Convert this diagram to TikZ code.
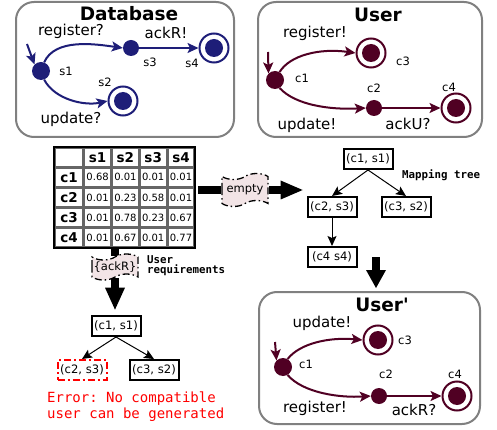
\documentclass[tikz,border=0pt]{standalone}
\usepackage{fontspec}
\setmainfont{DejaVu Sans}
\setmonofont{DejaVu Sans Mono}
\usetikzlibrary{arrows.meta,shapes.symbols,calc,backgrounds,matrix}
\definecolor{dbblue}{RGB}{30,30,120}
\definecolor{usrred}{RGB}{80,0,35}
\definecolor{panelgray}{RGB}{128,128,128}
\definecolor{tapepink}{RGB}{242,228,230}
\definecolor{errred}{RGB}{255,0,0}
\newcommand{\myfs}[1]{\fontsize{#1}{#1}\selectfont}
\tikzset{
  panel/.style={draw=panelgray, line width=2pt, rounded corners=18pt},
  titletext/.style={font=\myfs{18.5}\bfseries, inner sep=0pt},
  lbl/.style={font=\myfs{15}, inner sep=0pt},
  sname/.style={font=\myfs{11.5}, inner sep=0pt},
  dot/.style={circle, fill=#1, inner sep=0pt, minimum size=18pt},
  smalldot/.style={circle, fill=#1, inner sep=0pt, minimum size=16pt},
  final/.style={circle, draw=#1, line width=2pt, fill=white, inner sep=0pt, minimum size=29pt,
    path picture={\fill[#1] (path picture bounding box.center) circle (9pt);}},
  trans/.style={draw=#1, line width=2pt, -{Stealth[length=11pt,width=10pt,inset=2.5pt]}},
  treebox/.style={draw, line width=2pt, fill=white, minimum width=49pt, minimum height=20pt,
    inner sep=2pt, font=\myfs{11.6}},
  errbox/.style={treebox, draw=errred, dash pattern=on 7pt off 3pt on 2pt off 3pt},
  treearrow/.style={line width=1pt, -{Stealth[length=10pt,width=9pt,inset=2pt]}},
  tapebox/.style={tape, draw=black, line width=1.3pt, dash pattern=on 7pt off 3pt on 1.5pt off 3pt,
    fill=tapepink, inner sep=1pt, font=\myfs{11.5}, tape bend height=6pt, minimum width=46pt},
  bigshaft/.style={line width=8pt},
  monolbl/.style={font=\myfs{10.8}\ttfamily\bfseries, inner sep=0pt, align=left},
}
\begin{document}
\begin{tikzpicture}[x=1pt,y=-1pt]
\useasboundingbox (0,0) rectangle (497,430);

% ---------- Database panel ----------
\draw[panel] (16,2) rectangle (234,137);
\node[titletext] (dbtitle) at (129,14) {Database};
\node[dot=dbblue] (s1) at (41,71) {};
\node[smalldot=dbblue] (s3) at (131,48) {};
\node[final=dbblue] (s4) at (214,48) {};
\node[final=dbblue] (s2) at (123,101) {};
\coordinate (dbinit) at (27,44);
\draw[trans=dbblue] (dbinit) -- (s1.135);
\draw[trans=dbblue] (s1.70) .. controls (55,38) and (95,44) .. (s3.west);
\draw[trans=dbblue] (s1.-70) .. controls (55,100) and (85,106) .. (s2.west);
\draw[trans=dbblue] (s3) -- (s4);
\node[lbl] (dbreg) at (71,31) {register?};
\node[lbl] (dback) at (166,33) {ackR!};
\node[lbl] (dbupd) at (71,119) {update?};
\node[sname] (ls1) at (66,71) {s1};
\node[sname] (ls3) at (150,62) {s3};
\node[sname] (ls4) at (192,63) {s4};
\node[sname] (ls2) at (105,82) {s2};

% ---------- User panel ----------
\draw[panel] (258,2) rectangle (482,137);
\node[titletext] (utitle) at (378,15) {User};
\node[dot=usrred] (c1) at (275,80) {};
\node[final=usrred] (c3) at (371,53) {};
\node[smalldot=usrred] (c2) at (374,108) {};
\node[final=usrred] (c4) at (456,108) {};
\coordinate (uinit) at (268,52);
\draw[trans=usrred] (uinit) -- (c1.135);
\draw[trans=usrred] (c1.60) .. controls (290,55) and (320,48) .. (c3.west);
\draw[trans=usrred] (c1.-60) .. controls (295,105) and (330,110) .. (c2.west);
\draw[trans=usrred] (c2) -- (c4);
\node[lbl] (ureg) at (315,33) {register!};
\node[lbl] (uupd) at (307,125) {update!};
\node[lbl] (uack) at (408,124) {ackU?};
\node[sname] (lc1) at (302,78) {c1};
\node[sname] (lc2) at (374,88) {c2};
\node[sname] (lc3) at (403,61) {c3};
\node[sname] (lc4) at (449,87) {c4};

% ---------- User' panel ----------
\draw[panel] (259,292) rectangle (480,424);
\node[titletext] (vtitle) at (382,305) {User\textquotesingle};
\node[dot=usrred] (d1) at (283,367) {};
\node[final=usrred] (d3) at (378,340) {};
\node[smalldot=usrred] (d2) at (379,396) {};
\node[final=usrred] (d4) at (457,396) {};
\coordinate (vinit) at (275,342);
\draw[trans=usrred] (vinit) -- (d1.135);
\draw[trans=usrred] (d1.60) .. controls (300,343) and (330,337) .. (d3.west);
\draw[trans=usrred] (d1.-60) .. controls (303,393) and (340,398) .. (d2.west);
\draw[trans=usrred] (d2) -- (d4);
\node[lbl] (vupd) at (322,323) {update!};
\node[lbl] (vreg) at (315,408) {register!};
\node[lbl] (vack) at (414,410) {ackR?};
\node[sname] (ld1) at (306,364) {c1};
\node[sname] (ld2) at (386,374) {c2};
\node[sname] (ld3) at (405,340) {c3};
\node[sname] (ld4) at (455,374) {c4};

% ---------- Table ----------
\matrix (tbl) [matrix of nodes, nodes in empty cells, anchor=north west, inner sep=0pt,
  column sep=0pt, row sep=0pt,
  nodes={draw=black!60, line width=1.5pt, outer sep=0pt, minimum width=26.3pt,
    minimum height=18.6pt, inner sep=0pt, anchor=center, font=\myfs{10}},
  row 1/.style={nodes={font=\myfs{13.5}\bfseries}},
  column 1/.style={nodes={minimum width=28pt, font=\myfs{13.5}\bfseries}}]
  at (54,147) {
  {} & s1 & s2 & s3 & s4 \\
  c1 & 0.68 & 0.01 & 0.01 & 0.01 \\
  c2 & 0.01 & 0.23 & 0.58 & 0.01 \\
  c3 & 0.01 & 0.78 & 0.23 & 0.67 \\
  c4 & 0.01 & 0.67 & 0.01 & 0.77 \\
};
\draw[line width=2.5pt] (tbl.north west) rectangle (tbl.south east);

% ---------- Tapes ----------
\node[tapebox, minimum height=33pt] (emptytape) at (245,190) {empty};
\node[tapebox, minimum height=26pt] (reqtape) at (115,267) {\{ackR\}};
\node[monolbl, anchor=west] (reqlbl) at (147,265.5) {User\\[-1pt]requirements};

% ---------- Mapping tree ----------
\node[treebox] (mt1) at (368,159) {(c1, s1)};
\node[treebox] (mt2) at (332,207) {(c2, s3)};
\node[treebox] (mt3) at (406,207) {(c3, s2)};
\node[treebox] (mt4) at (332,257) {(c4 s4)};
\node[monolbl, anchor=west] (mtlbl) at (402,175) {Mapping tree};
\draw[treearrow] (mt1.south) -- (mt2.north);
\draw[treearrow] (mt1.south) -- (mt3.north);
\draw[treearrow] (mt2.south) -- (mt4.north);

% ---------- Left tree ----------
\node[treebox] (lt1) at (116,326) {(c1, s1)};
\node[errbox] (lt2) at (82,370) {(c2, s3)};
\node[treebox] (lt3) at (154,370) {(c3, s2)};
\draw[treearrow] (lt1.south) -- (lt2.north);
\draw[treearrow] (lt1.south) -- (lt3.north);
\node[font=\myfs{14}\ttfamily, text=errred, align=left, anchor=west, inner sep=0pt]
  (errtxt) at (47,406.5) {Error: No compatible\\[2pt]user can be generated};

% ---------- Big arrows ----------
\coordinate (hstart) at ($(emptytape.west)+(-23,0)$);
\coordinate (hhead) at ($(emptytape.east)+(12,0)$);
\coordinate (vstart) at (tbl.south -| reqtape);
\coordinate (vhead) at ($(reqtape.south)+(0,10)$);
\coordinate (dstart) at (376,257);
\coordinate (dhead) at (376,270);
\begin{scope}[on background layer]
  \draw[bigshaft] (hstart) -- (emptytape.west);
  \draw[bigshaft] (emptytape.east) -- ($(hhead)+(1,0)$);
  \draw[bigshaft] (vstart) -- (reqtape.north);
  \draw[bigshaft] (reqtape.south) -- ($(vhead)+(0,1)$);
  \draw[bigshaft] (dstart) -- ($(dhead)+(0,1)$);
\end{scope}
\fill ($(hhead)+(0,-9.5)$) -- ($(hhead)+(22,0)$) -- ($(hhead)+(0,9.5)$) -- cycle;
\fill ($(vhead)+(-10,0)$) -- ($(vhead)+(0,22)$) -- ($(vhead)+(10,0)$) -- cycle;
\fill ($(dhead)+(-10,0)$) -- ($(dhead)+(0,18)$) -- ($(dhead)+(10,0)$) -- cycle;
\end{tikzpicture}
\end{document}
